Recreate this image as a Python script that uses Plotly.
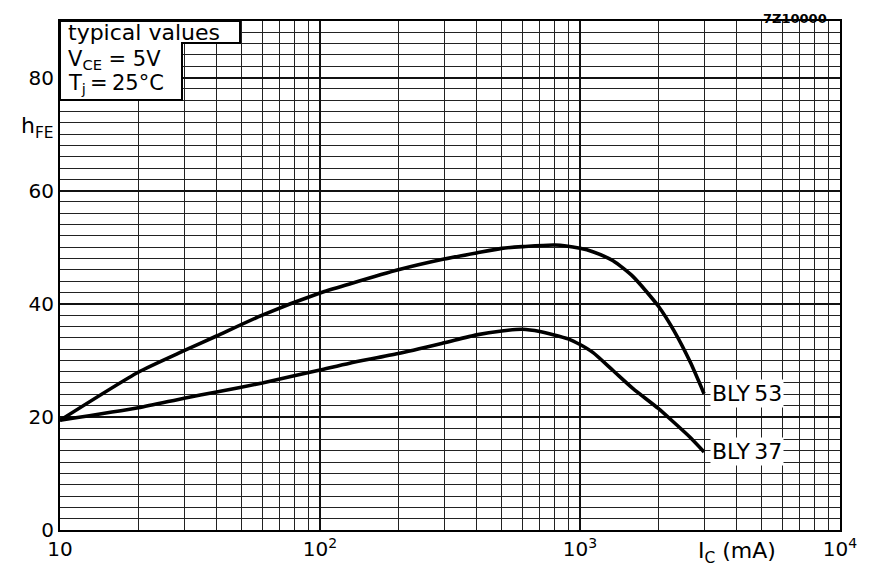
import math
import plotly.graph_objects as go

# ---- data ----
ic_bly53 = [10, 20, 30, 40, 60, 100, 130, 200, 300, 400, 500, 600, 800, 1000, 1120, 1340, 1600, 2000, 2300, 2660, 3000]
hfe_bly53 = [19.4, 27.9, 31.7, 34.3, 38.0, 41.9, 43.5, 46.0, 47.9, 49.0, 49.8, 50.1, 50.4, 49.8, 49.2, 47.6, 44.8, 39.6, 35.2, 29.6, 24.1]

ic_bly37 = [10, 20, 30, 40, 60, 100, 130, 200, 300, 400, 500, 600, 700, 900, 1000, 1120, 1340, 1600, 2000, 2300, 2650, 3000]
hfe_bly37 = [19.4, 21.6, 23.3, 24.4, 26.0, 28.3, 29.5, 31.2, 33.1, 34.5, 35.2, 35.5, 35.1, 33.8, 32.8, 31.4, 28.2, 25.0, 21.5, 19.0, 16.4, 13.8]

x_tickvals = [10, 100, 1000, 10000]
x_ticktext = ["10", "10<sup>2</sup>", "10<sup>3</sup>", "10<sup>4</sup>"]
y_tickvals = [0, 20, 40, 60, 80]
series_names = ["BLY53", "BLY37"]

FONT = "DejaVu Sans"
THIN = "\u2009"

fig = go.Figure()
for xs, ys, name in [(ic_bly53, hfe_bly53, series_names[0]), (ic_bly37, hfe_bly37, series_names[1])]:
    fig.add_trace(go.Scatter(x=xs, y=ys, mode="lines", name=name,
                             line=dict(color="black", width=3.6, shape="spline", smoothing=0.6),
                             showlegend=False))
    fig.add_annotation(x=math.log10(xs[-1]), y=ys[-1], xref="x", yref="y",
                       text=name[:3] + THIN + name[3:],
                       showarrow=False, xanchor="left", yanchor="middle", xshift=6,
                       bgcolor="white", borderpad=1,
                       font=dict(family=FONT, size=22, color="black"))

fig.update_layout(
    width=863, height=565,
    margin=dict(l=52, r=31, t=11, b=43),
    paper_bgcolor="white", plot_bgcolor="white",
    font=dict(family=FONT, size=20, color="black"),
    xaxis=dict(type="log", range=[1, 4], tickvals=x_tickvals, ticktext=x_ticktext,
               showgrid=True, gridcolor="#111", gridwidth=2,
               minor=dict(showgrid=True, gridcolor="#222", gridwidth=1.3, dtick="D1", ticks=""),
               showline=True, linecolor="black", linewidth=2, mirror=True,
               ticks="", tickfont=dict(family=FONT, size=20), zeroline=False),
    yaxis=dict(range=[0, 90], tickvals=y_tickvals,
               showgrid=True, gridcolor="#111", gridwidth=1.5,
               minor=dict(showgrid=True, gridcolor="#222", gridwidth=1.3, dtick=2, ticks=""),
               showline=True, linecolor="black", linewidth=2, mirror=True,
               ticks="", tickfont=dict(family=FONT, size=20), zeroline=False),
)

# white L-shaped box for the condition text (top-left)
fig.add_shape(type="path", xref="paper", yref="paper",
              path="M 0,1 L 0.2308,1 L 0.2308,0.957 L 0.1564,0.957 L 0.1564,0.845 L 0,0.845 Z",
              fillcolor="white", line=dict(color="black", width=2), layer="above")

fig.add_annotation(xref="paper", yref="paper", x=0.008, y=1.006, xanchor="left", yanchor="top",
                   text="typical values", showarrow=False, font=dict(family=FONT, size=22))
fig.add_annotation(xref="paper", yref="paper", x=0.008, y=0.953, xanchor="left", yanchor="top",
                   text="V<sub>CE</sub> = 5V", showarrow=False, font=dict(family=FONT, size=21))
fig.add_annotation(xref="paper", yref="paper", x=0.008, y=0.905, xanchor="left", yanchor="top",
                   text="T<sub>j</sub>" + THIN + "=" + THIN + "25°C", showarrow=False,
                   font=dict(family=FONT, size=21))

# axis titles
fig.add_annotation(xref="paper", yref="paper", x=-0.052, y=0.79, xanchor="left", yanchor="middle",
                   text="h<sub>FE</sub>", showarrow=False, font=dict(family=FONT, size=22))
fig.add_annotation(xref="paper", yref="paper", x=0.815, y=-0.045, xanchor="left", yanchor="middle",
                   text="I<sub>C</sub> (mA)", showarrow=False, font=dict(family=FONT, size=22))
fig.add_annotation(xref="paper", yref="paper", x=0.985, y=1.0215, xanchor="right", yanchor="top",
                   text="<b>7Z10000</b>", showarrow=False, borderpad=0,
                   font=dict(family=FONT, size=13))

fig.write_html("out.html")
